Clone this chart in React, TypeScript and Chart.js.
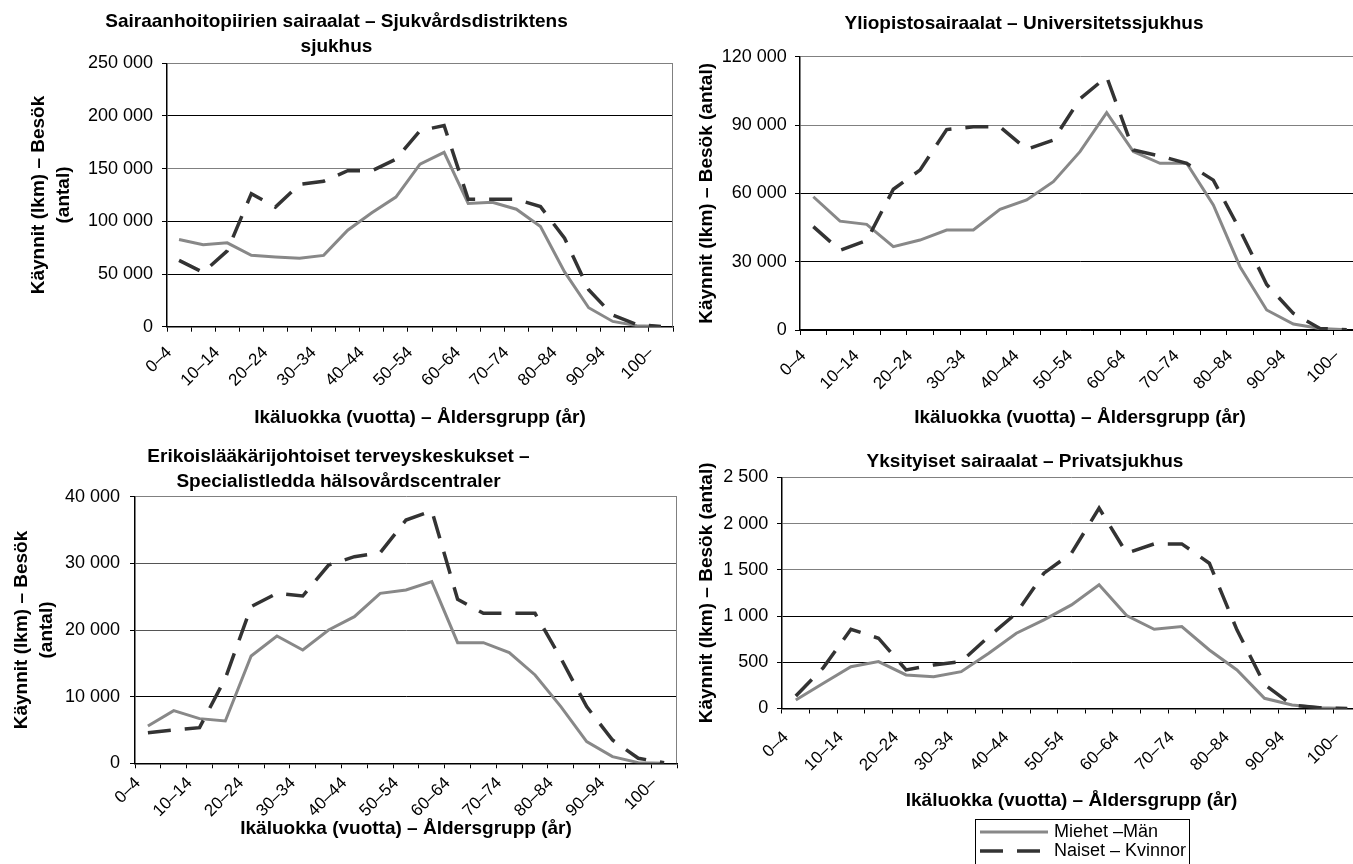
import React, { useEffect, useRef } from 'react';
import { Chart, registerables } from 'chart.js';

Chart.register(...registerables);

const FONT = "'Liberation Sans', Arial, Helvetica, sans-serif";

// ---------- data ----------
const ageGroups = [
  '0–4', '5–9', '10–14', '15–19', '20–24', '25–29', '30–34', '35–39', '40–44', '45–49',
  '50–54', '55–59', '60–64', '65–69', '70–74', '75–79', '80–84', '85–89', '90–94', '95–99', '100–',
];

const seriesLabels = ['Miehet –Män', 'Naiset – Kvinnor'];
const xAxisTitle = 'Ikäluokka (vuotta) – Åldersgrupp (år)';

// Sairaanhoitopiirien sairaalat
const districtMen = [82700, 77700, 79600, 67700, 66200, 64900, 67700, 91600, 108200, 123000, 154300, 165500, 117000, 118000, 111500, 95000, 52000, 18000, 5000, 1000, 300];
const districtWomen = [63000, 51500, 72000, 126300, 113500, 135000, 138000, 148000, 148000, 159000, 186000, 191000, 121000, 121000, 121000, 114000, 84000, 35000, 11000, 2000, 300];
const districtTicks = [0, 50000, 100000, 150000, 200000, 250000];

// Yliopistosairaalat
const universityMen = [58500, 47800, 46400, 36600, 39500, 43900, 43900, 53000, 57100, 65100, 78300, 95400, 78300, 73200, 73200, 54900, 27800, 8800, 2600, 700, 100];
const universityWomen = [45400, 35000, 39300, 61800, 70200, 88000, 89200, 89200, 79300, 83400, 101500, 111200, 79000, 76400, 73200, 65800, 43900, 20000, 7300, 700, 100];
const universityTicks = [0, 30000, 60000, 90000, 120000];

// Erikoislääkärijohtoiset terveyskeskukset
const specialistMen = [5600, 7900, 6700, 6350, 16100, 19100, 17000, 20000, 22000, 25500, 26000, 27250, 18100, 18100, 16600, 13250, 8500, 3250, 1000, 100, 0];
const specialistWomen = [4600, 5000, 5350, 12750, 23500, 25500, 25100, 29750, 31000, 31600, 36500, 37900, 24600, 22500, 22500, 22500, 15750, 8500, 3500, 750, 100];
const specialistTicks = [0, 10000, 20000, 30000, 40000];

// Yksityiset sairaalat
const privateMen = [92, 273, 452, 507, 363, 344, 398, 597, 814, 958, 1120, 1337, 1005, 857, 886, 633, 417, 110, 38, 8, 0];
const privateWomen = [135, 442, 857, 760, 417, 471, 507, 777, 1030, 1463, 1680, 2167, 1680, 1780, 1780, 1571, 850, 260, 38, 8, 0];
const privateTicks = [0, 500, 1000, 1500, 2000, 2500];

// ---------- styles ----------
const MEN_COLOR = '#888888';
const WOMEN_COLOR = '#333333';
const BLACK = '#000000';
const GRAY = '#808080';

const fmt = (v: number) => String(v).replace(/\B(?=(\d{3})+(?!\d))/g, ' ');

const framePlugin = {
  id: 'plotFrame',
  beforeDatasetsDraw(chart: any, _args: any, opts: any) {
    if (!opts || !opts.right) return;
    const { ctx, chartArea } = chart;
    ctx.save();
    ctx.strokeStyle = opts.color;
    ctx.lineWidth = 1;
    const x = Math.round(chartArea.right) - 0.5;
    ctx.beginPath();
    ctx.moveTo(x, chartArea.top);
    ctx.lineTo(x, chartArea.bottom);
    ctx.stroke();
    ctx.restore();
  },
};

const boxLegendPlugin = {
  id: 'boxLegend',
  afterDraw(chart: any, _args: any, opts: any) {
    if (!opts || !opts.display) return;
    const { ctx } = chart;
    ctx.save();
    ctx.strokeStyle = BLACK;
    ctx.lineWidth = 1;
    ctx.setLineDash([]);
    ctx.strokeRect(opts.left + 0.5, opts.top + 0.5, opts.width, opts.height);
    chart.data.datasets.forEach((ds: any, i: number) => {
      const y = opts.firstRow + i * opts.rowGap;
      ctx.beginPath();
      ctx.setLineDash(ds.borderDash || []);
      ctx.strokeStyle = ds.borderColor;
      ctx.lineWidth = ds.borderWidth;
      ctx.moveTo(opts.sampleLeft, y);
      ctx.lineTo(opts.sampleRight, y);
      ctx.stroke();
      ctx.setLineDash([]);
      ctx.fillStyle = BLACK;
      ctx.font = `18px ${FONT}`;
      ctx.textBaseline = 'middle';
      ctx.textAlign = 'left';
      ctx.fillText(ds.label, opts.textLeft, y);
    });
    ctx.restore();
  },
};

type Spec = {
  title: string[];
  yTitle: string[];
  men: number[];
  women: number[];
  yTicks: number[];
  gridColors: string[];
  left: number; top: number; width: number; height: number;
  padRight: number; padBottom: number;
  titlePad: [number, number];
  yWidth: number; yTitlePad: number; yLabelPad: number;
  xHeight: number; xTitlePad: number; xLabelPad: number;
  frameRight: boolean;
  legend?: any;
};

const LH = 25;

const specs: Spec[] = [
  {
    title: ['Sairaanhoitopiirien sairaalat – Sjukvårdsdistriktens', 'sjukhus'],
    yTitle: ['Käynnit (lkm) – Besök', '(antal)'],
    men: districtMen, women: districtWomen, yTicks: districtTicks,
    gridColors: [BLACK, BLACK, BLACK, GRAY, BLACK, GRAY],
    left: 0, top: 0, width: 674, height: 430, padRight: 1, padBottom: 0,
    titlePad: [9.2, 4.1], yWidth: 167, yTitlePad: 26, yLabelPad: 9,
    xHeight: 103.3, xTitlePad: 0, xLabelPad: 11, frameRight: true,
  },
  {
    title: ['Yliopistosairaalat – Universitetssjukhus'],
    yTitle: ['Käynnit (lkm) – Besök (antal)'],
    men: universityMen, women: universityWomen, yTicks: universityTicks,
    gridColors: [BLACK, BLACK, BLACK, GRAY, GRAY],
    left: 688, top: 0, width: 672, height: 430, padRight: 0, padBottom: 0,
    titlePad: [11.5, 20.2], yWidth: 112, yTitlePad: 6.5, yLabelPad: 8.3,
    xHeight: 100, xTitlePad: 0, xLabelPad: 11, frameRight: false,
  },
  {
    title: ['Erikoislääkärijohtoiset terveyskeskukset –', 'Specialistledda hälsovårdscentraler'],
    yTitle: ['Käynnit (lkm) – Besök', '(antal)'],
    men: specialistMen, women: specialistWomen, yTicks: specialistTicks,
    gridColors: [BLACK, BLACK, '#555555', '#555555', GRAY],
    left: 0, top: 435, width: 678, height: 407, padRight: 1, padBottom: 0,
    titlePad: [9, 2.7], yWidth: 135, yTitlePad: 9, yLabelPad: 10,
    xHeight: 78.7, xTitlePad: 1, xLabelPad: 5, frameRight: true,
  },
  {
    title: ['Yksityiset sairaalat – Privatsjukhus'],
    yTitle: ['Käynnit (lkm) – Besök (antal)'],
    men: privateMen, women: privateWomen, yTicks: privateTicks,
    gridColors: [BLACK, BLACK, BLACK, GRAY, GRAY, GRAY],
    left: 689, top: 435, width: 672, height: 429, padRight: 0, padBottom: 50,
    titlePad: [14.5, 2.8], yWidth: 93, yTitlePad: 5.5, yLabelPad: 8.7,
    xHeight: 105.5, xTitlePad: 0.5, xLabelPad: 14, frameRight: false,
    legend: {
      display: true,
      left: 975 - 689, top: 819 - 435, width: 214, height: 60,
      firstRow: 832 - 435, rowGap: 19,
      sampleLeft: 980 - 689, sampleRight: 1048 - 689, textLeft: 1054 - 689,
    },
  },
];

function Panel({ spec }: { spec: Spec }) {
  const ref = useRef<HTMLCanvasElement>(null);
  useEffect(() => {
    const boldFont = { family: FONT, size: 19, weight: 'bold' as const, lineHeight: LH / 19 };
    const chart = new Chart(ref.current as HTMLCanvasElement, {
      type: 'line',
      data: {
        labels: ageGroups,
        datasets: [
          {
            label: seriesLabels[0], data: spec.men, borderColor: MEN_COLOR, borderWidth: 3,
            pointRadius: 0, tension: 0, fill: false, order: 1,
          },
          {
            label: seriesLabels[1], data: spec.women, borderColor: WOMEN_COLOR, borderWidth: 3.5,
            borderDash: [23, 14], pointRadius: 0, tension: 0, fill: false, order: 0,
          },
        ],
      },
      options: {
        responsive: false,
        animation: false,
        devicePixelRatio: 1,
        events: [],
        layout: { padding: { left: 0, top: 0, right: spec.padRight, bottom: spec.padBottom } },
        plugins: {
          legend: { display: false },
          tooltip: { enabled: false },
          title: {
            display: true, text: spec.title, color: BLACK, font: boldFont,
            padding: { top: spec.titlePad[0], bottom: spec.titlePad[1] },
          },
          plotFrame: { right: spec.frameRight, color: GRAY },
          boxLegend: spec.legend || { display: false },
        } as any,
        scales: {
          x: {
            type: 'category',
            offset: true,
            grid: {
              display: true, drawOnChartArea: false, drawTicks: true, tickLength: 5,
              tickColor: BLACK, offset: true, color: BLACK,
            },
            border: { display: true, color: BLACK, width: 1.5 },
            ticks: {
              autoSkip: false, minRotation: 45, maxRotation: 45, padding: spec.xLabelPad, labelOffset: -10,
              color: BLACK, font: { family: FONT, size: 17 },
              callback: (_v: any, i: number) => (i % 2 === 0 ? ageGroups[i] : ''),
            },
            title: {
              display: true, text: xAxisTitle, color: BLACK, font: boldFont,
              padding: { top: 0, bottom: spec.xTitlePad },
            },
            afterFit: (s: any) => {
              s.height = spec.xHeight;
              s.paddingLeft = 0;
              s.paddingRight = 0;
            },
          },
          y: {
            type: 'linear',
            min: spec.yTicks[0],
            max: spec.yTicks[spec.yTicks.length - 1],
            afterBuildTicks: (s: any) => { s.ticks = spec.yTicks.map((v) => ({ value: v })); },
            grid: {
              color: spec.gridColors, lineWidth: 1, drawTicks: true, tickLength: 5, tickColor: BLACK,
            },
            border: { display: true, color: BLACK, width: 1.5 },
            ticks: {
              padding: spec.yLabelPad, color: BLACK, font: { family: FONT, size: 18 },
              callback: (v: any) => fmt(Number(v)),
            },
            title: {
              display: true, text: spec.yTitle, color: BLACK, font: boldFont,
              padding: { top: spec.yTitlePad, bottom: 0 },
            },
            afterFit: (s: any) => {
              s.width = spec.yWidth;
              s.paddingTop = 0;
              s.paddingBottom = 0;
            },
          },
        } as any,
      },
      plugins: [framePlugin, boxLegendPlugin] as any,
    });
    return () => chart.destroy();
  }, [spec]);
  return (
    <canvas
      ref={ref}
      width={spec.width}
      height={spec.height}
      style={{ position: 'absolute', left: spec.left, top: spec.top, width: spec.width, height: spec.height, display: 'block' }}
    />
  );
}

export default function App() {
  return (
    <div style={{ position: 'fixed', left: 0, top: 0, width: 1353, height: 864, overflow: 'hidden', background: '#fff' }}>
      {specs.map((s, i) => <Panel key={i} spec={s} />)}
    </div>
  );
}
